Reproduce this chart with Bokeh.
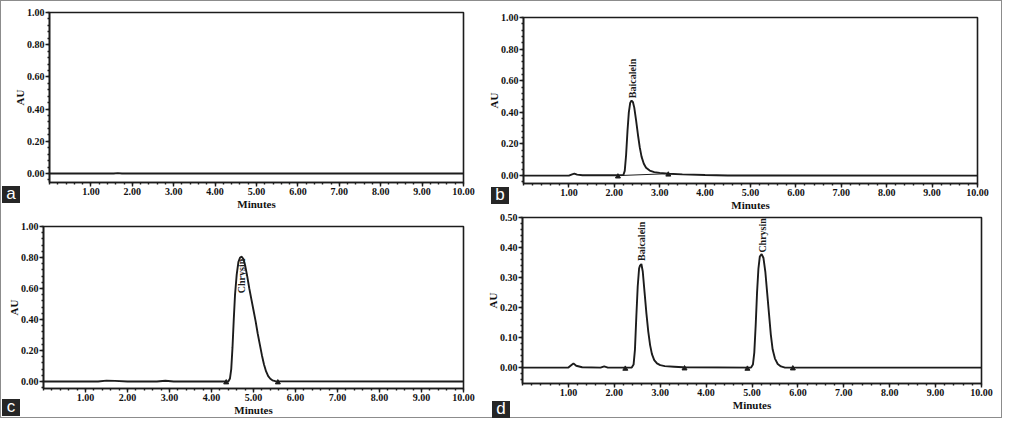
import math
from bokeh.plotting import figure
from bokeh.layouts import column
from bokeh.models import Range1d, FixedTicker, PrintfTickFormatter, Div
from bokeh.core.properties import value
from bokeh.embed import file_html
from bokeh.resources import INLINE

# ---------------- data ----------------
x_major = [1, 2, 3, 4, 5, 6, 7, 8, 9, 10]
y_major_1 = [0.0, 0.2, 0.4, 0.6, 0.8, 1.0]
y_major_05 = [0.0, 0.1, 0.2, 0.3, 0.4, 0.5]
panel_letters = ["a", "b", "c", "d"]

# panel a: blank run
a_t = [0.0, 1.55, 1.65, 1.75, 10.0]
a_v = [0.0, 0.0, 0.002, 0.0, 0.0]

# panel b: baicalein standard
b_t = [0.0, 1.0, 1.07, 1.12, 1.18, 1.3, 2.0, 2.20, 2.23, 2.26, 2.29, 2.32, 2.35, 2.38,
       2.41, 2.44, 2.48, 2.52, 2.56, 2.60, 2.65, 2.70, 2.78, 2.88, 3.0, 3.2, 3.5, 4.0, 4.5, 10.0]
b_v = [0.0, 0.0, 0.008, 0.012, 0.006, 0.002, 0.002, 0.004, 0.03, 0.13, 0.28, 0.40, 0.46, 0.475,
       0.465, 0.43, 0.35, 0.26, 0.18, 0.12, 0.075, 0.05, 0.032, 0.022, 0.017, 0.012, 0.008, 0.004, 0.001, 0.0]
b_mark_t = [2.08, 3.19]
b_mark_v = [-0.006, 0.006]
b_base_t = [2.08, 3.19]
b_base_v = [0.0, 0.012]
b_peaks = ["Baicalein"]
b_peak_t = [2.39]
b_peak_v = [0.49]

# panel c: chrysin standard
c_t = [0.0, 1.3, 1.5, 1.7, 2.0, 2.7, 2.9, 3.1, 3.5, 4.40, 4.44, 4.47, 4.50, 4.53, 4.56, 4.60,
       4.64, 4.68, 4.72, 4.76, 4.80, 4.85, 4.90, 4.95, 5.00, 5.05, 5.10, 5.15, 5.20, 5.25,
       5.30, 5.35, 5.40, 5.45, 5.52, 10.0]
c_v = [0.0, 0.0, 0.006, 0.004, 0.0, 0.0, 0.005, 0.0, 0.0, 0.0, 0.02, 0.08, 0.22, 0.40, 0.56, 0.69,
       0.77, 0.80, 0.805, 0.79, 0.75, 0.68, 0.60, 0.53, 0.46, 0.39, 0.31, 0.24, 0.17, 0.11,
       0.065, 0.035, 0.018, 0.008, 0.002, 0.0]
c_mark_t = [4.35, 5.58]
c_mark_v = [-0.006, -0.006]
c_peaks = ["Chrysin"]
c_peak_t = [4.72]
c_peak_v = [0.57]

# panel d: sample with both
d_t = [0.0, 1.0, 1.06, 1.11, 1.17, 1.3, 1.7, 1.78, 1.86, 2.38, 2.42, 2.45, 2.48, 2.51, 2.54,
       2.56, 2.59, 2.62, 2.66, 2.70, 2.74, 2.78, 2.82, 2.87, 2.93, 3.0, 3.1, 3.3, 3.5,
       4.98, 5.02, 5.05, 5.08, 5.11, 5.14, 5.17, 5.21, 5.25, 5.29, 5.33, 5.37, 5.41, 5.45,
       5.50, 5.56, 5.63, 5.72, 10.0]
d_v = [0.0, 0.0, 0.008, 0.014, 0.006, 0.001, 0.0, 0.004, 0.0, 0.0, 0.01, 0.06, 0.17, 0.27, 0.33,
       0.34, 0.345, 0.32, 0.25, 0.18, 0.12, 0.075, 0.045, 0.025, 0.014, 0.008, 0.005, 0.003, 0.001,
       0.0, 0.01, 0.05, 0.14, 0.25, 0.33, 0.37, 0.378, 0.365, 0.32, 0.25, 0.18, 0.11, 0.06,
       0.03, 0.012, 0.004, 0.0, 0.0]
d_mark_t = [2.24, 3.53, 4.90, 5.89]
d_mark_v = [-0.004, -0.003, -0.004, -0.003]
d_peaks = ["Baicalein", "Chrysin"]
d_peak_t = [2.59, 5.22]
d_peak_v = [0.355, 0.383]

INK = "#1c1c1c"
SERIF = "Liberation Serif"
BL, BR, BT, BB = 50, 20, 24, 40


def make_panel(fx0, fx1, fy0, fy1, ymin, ymax, yticks, yminor):
    # frame placed at page pixels (fx0..fx1, fy0..fy1); container has a 1px border
    p = figure(frame_width=fx1 - fx0, frame_height=fy1 - fy0,
               x_range=Range1d(0, 10), y_range=Range1d(ymin, ymax),
               output_backend="svg", toolbar_location=None, title=None,
               min_border_left=BL, min_border_right=BR, min_border_top=BT, min_border_bottom=BB,
               styles={"position": "absolute", "left": f"{fx0 - BL - 1}px", "top": f"{fy0 - BT - 1}px"})
    p.grid.visible = False
    p.background_fill_color = "white"
    p.border_fill_alpha = 0.0
    p.outline_line_color = INK
    p.outline_line_width = 1.6
    p.outline_line_alpha = 1.0
    xminor = [i / 5 for i in range(0, 51)]
    p.xaxis.ticker = FixedTicker(ticks=x_major, minor_ticks=xminor)
    p.yaxis.ticker = FixedTicker(ticks=yticks, minor_ticks=yminor)
    p.xaxis.formatter = PrintfTickFormatter(format="%.2f")
    p.yaxis.formatter = PrintfTickFormatter(format="%.2f")
    p.xaxis.axis_label = "Minutes"
    p.yaxis.axis_label = "AU"
    for ax in (p.xaxis[0], p.yaxis[0]):
        ax.axis_line_color = INK
        ax.axis_line_width = 1.6
        ax.major_tick_line_color = INK
        ax.minor_tick_line_color = INK
        ax.major_tick_line_width = 1.4
        ax.minor_tick_line_width = 1.4
        ax.major_tick_out = 4
        ax.major_tick_in = 0
        ax.minor_tick_out = 2
        ax.minor_tick_in = 0
        ax.major_label_text_font = SERIF
        ax.major_label_text_font_style = "bold"
        ax.major_label_text_font_size = "10px"
        ax.major_label_text_color = "#111111"
        ax.major_label_standoff = 1
        ax.axis_label_text_font = SERIF
        ax.axis_label_text_font_style = "bold"
        ax.axis_label_text_font_size = "11px"
        ax.axis_label_text_color = "#111111"
    p.xaxis.axis_label_standoff = 0
    p.yaxis.axis_label_standoff = -2
    return p


def draw(p, t, v, mt, mv, names=None, pt=None, pv=None):
    p.line(t, v, line_color=INK, line_width=1.9)
    p.scatter(mt, mv, marker="triangle", size=5, color=INK)
    if names:
        p.text(pt, pv, text=names, angle=math.pi / 2, text_align="left", text_baseline="middle",
               text_font=value(SERIF), text_font_style="bold", text_font_size="10px", text_color=INK)


def letter_div(txt, left, top):
    return Div(text=txt, width=18, height=17, margin=0,
               styles={"position": "absolute", "left": f"{left - 1}px", "top": f"{top - 1}px",
                       "background-color": "#262626", "color": "white",
                       "font-family": "Liberation Sans", "font-size": "17px",
                       "line-height": "15px", "text-align": "center", "z-index": "10"})


ymin_1 = [i / 25 for i in range(-1, 26)]
ymin_05 = [i / 50 for i in range(-2, 26)]

pa = make_panel(49, 463, 12, 182, -0.056, 1.0, y_major_1, ymin_1)
draw(pa, a_t, a_v, [], [])

pb = make_panel(523, 977, 17, 183, -0.05, 1.0, y_major_1, ymin_1)
draw(pb, b_t, b_v, b_mark_t, b_mark_v, b_peaks, b_peak_t, b_peak_v)
pb.line(b_base_t, b_base_v, line_color=INK, line_width=1.0)

pc = make_panel(43, 463, 226, 388, -0.045, 1.0, y_major_1, ymin_1)
draw(pc, c_t, c_v, c_mark_t, c_mark_v, c_peaks, c_peak_t, c_peak_v)

pd = make_panel(522, 981, 217, 383, -0.053, 0.5, y_major_05, ymin_05)
draw(pd, d_t, d_v, d_mark_t, d_mark_v, d_peaks, d_peak_t, d_peak_v)

letter_pos = [(2, 186), (491, 187), (2, 399), (492, 401)]
divs = [letter_div(t, l, tp) for t, (l, tp) in zip(panel_letters, letter_pos)]

layout = column(pa, pb, pc, pd, *divs, width=1002, height=418,
                styles={"border": "1px solid #8c8c8c", "position": "relative",
                        "background-color": "white"})

open("out.html", "w").write(file_html(layout, INLINE))
